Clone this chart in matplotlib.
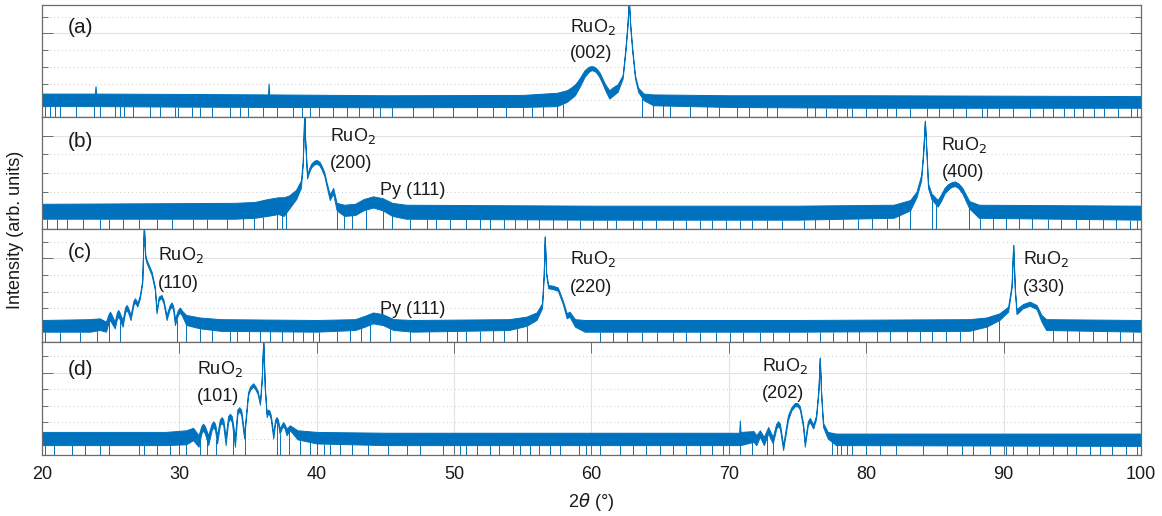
import numpy as np
import matplotlib.pyplot as plt
from matplotlib import ticker
from matplotlib.transforms import blended_transform_factory

plt.rcParams['font.family'] = ['Liberation Sans', 'DejaVu Sans']

# 2theta (deg), lower / upper edge of the noisy trace, in log10(counts)
a_tt = [20.0, 23.85, 23.9, 23.95, 30.0, 36.45, 36.5, 36.55, 45.0, 55.0, 57.5, 58.2, 58.5, 58.8,
        59.0, 59.2, 59.35, 59.5, 59.65, 59.8, 60.0, 60.15, 60.3, 60.45, 60.6, 60.8, 61.0, 61.3,
        61.6, 61.9, 62.27, 62.47, 62.62, 62.72, 62.82, 62.97, 63.17, 63.4, 63.8, 64.5, 70.0,
        80.0, 100.0]
a_lo = [0.65, 0.65, 0.7, 0.65, 0.62, 0.6, 0.6, 0.6, 0.58, 0.6, 0.65, 0.9, 1.1, 1.3,
        1.6, 1.9, 2.15, 2.4, 2.55, 2.7, 2.8, 2.77, 2.7, 2.55, 2.35, 2.0, 1.6, 1.1,
        1.3, 1.5, 2.3, 3.9, 5.4, 7.0, 5.4, 3.9, 2.3, 1.5, 1.0, 0.7, 0.6,
        0.55, 0.55]
a_hi = [1.4, 1.4, 1.85, 1.4, 1.38, 1.35, 2.0, 1.35, 1.3, 1.32, 1.45, 1.6, 1.75, 1.95,
        2.15, 2.4, 2.6, 2.8, 2.9, 3.0, 3.05, 3.02, 2.95, 2.82, 2.65, 2.3, 1.95, 1.6,
        1.8, 1.95, 2.5, 4.1, 5.6, 7.0, 5.6, 4.1, 2.5, 1.75, 1.4, 1.35, 1.3,
        1.3, 1.25]

b_tt = [20.0, 34.0, 35.5, 36.4, 37.2, 37.6, 38.0, 38.5, 38.85, 38.98, 39.05, 39.1, 39.15, 39.3,
        39.45, 39.6, 39.8, 40.0, 40.2, 40.35, 40.55, 40.7, 40.95, 41.2, 41.45, 42.0, 42.8, 43.4,
        44.1, 44.8, 45.5, 46.5, 60.0, 75.0, 82.0, 83.2, 83.66, 84.0, 84.15, 84.27, 84.4, 84.5,
        84.75, 85.2, 85.45, 85.7, 85.95, 86.2, 86.45, 86.7, 87.0, 87.25, 87.5, 88.2, 100.0]
b_lo = [0.55, 0.55, 0.6, 0.7, 0.8, 0.7, 1.1, 1.6, 2.2, 3.4, 5.0, 6.5, 4.8, 2.7,
        3.05, 3.3, 3.45, 3.5, 3.4, 3.2, 2.85, 2.35, 1.55, 1.9, 1.0, 0.7, 0.75, 1.0,
        1.15, 1.0, 0.7, 0.55, 0.5, 0.5, 0.6, 1.0, 1.7, 2.6, 4.0, 5.8, 3.8, 2.2,
        1.6, 1.2, 1.5, 1.9, 2.1, 2.25, 2.3, 2.2, 1.9, 1.5, 1.1, 0.6, 0.5]
b_hi = [1.35, 1.4, 1.45, 1.6, 1.7, 1.7, 1.8, 2.1, 2.6, 3.6, 5.2, 6.5, 5.0, 2.9,
        3.25, 3.5, 3.65, 3.7, 3.6, 3.4, 3.05, 2.55, 1.85, 2.2, 1.4, 1.3, 1.35, 1.6,
        1.75, 1.65, 1.4, 1.3, 1.25, 1.25, 1.3, 1.55, 2.0, 2.9, 4.2, 5.8, 4.0, 2.45,
        1.9, 1.55, 1.85, 2.2, 2.4, 2.5, 2.55, 2.45, 2.2, 1.85, 1.5, 1.3, 1.25]

c_tt = [20.0, 23.5, 24.2, 24.66, 24.85, 24.95, 25.05, 25.3, 25.45, 25.55, 25.65, 25.87, 26.05,
        26.16, 26.27, 26.45, 26.66, 26.77, 26.88, 26.94, 27.13, 27.3, 27.42, 27.52, 27.62, 27.98,
        28.22, 28.34, 28.5, 28.7, 28.85, 29.07, 29.3, 29.44, 29.55, 29.68, 29.9, 30.04, 30.2,
        30.5, 31.5, 33.0, 40.0, 42.8, 43.5, 44.1, 44.8, 45.6, 47.0, 54.0, 55.27, 56.0, 56.4,
        56.52, 56.6, 56.7, 56.85, 57.2, 57.55, 57.9, 58.2, 58.4, 58.8, 59.5, 75.0, 87.5, 88.75,
        89.7, 90.33, 90.58, 90.7, 90.82, 90.94, 91.4, 91.9, 92.4, 92.76, 93.1, 100.0]
c_lo = [0.6, 0.6, 0.7, 0.6, 1.15, 1.3, 1.15, 0.8, 1.35, 1.5, 1.35, 0.9, 1.75,
        1.9, 1.75, 1.3, 2.2, 2.35, 2.2, 2.1, 2.6, 3.5, 7.0, 5.0, 4.7, 4.0,
        3.1, 1.7, 2.5, 2.6, 2.3, 1.3, 1.95, 2.1, 1.9, 1.0, 1.6, 1.75, 1.55,
        1.0, 0.8, 0.65, 0.6, 0.7, 0.9, 1.1, 1.0, 0.7, 0.6, 0.7, 0.95, 1.3, 2.0,
        3.8, 6.3, 4.0, 3.2, 3.15, 3.05, 2.3, 1.4, 1.5, 0.9, 0.6, 0.6, 0.65, 0.9,
        1.3, 1.8, 3.2, 5.8, 3.0, 1.65, 2.0, 2.15, 1.95, 1.2, 0.7, 0.6]
c_hi = [1.3, 1.35, 1.4, 1.2, 1.65, 1.8, 1.65, 1.2, 1.75, 1.9, 1.75, 1.3, 2.05,
        2.2, 2.05, 1.6, 2.45, 2.6, 2.45, 2.3, 2.8, 3.7, 7.0, 5.2, 4.9, 4.2,
        3.3, 1.9, 2.7, 2.8, 2.5, 1.6, 2.2, 2.35, 2.15, 1.4, 1.9, 2.05, 1.85,
        1.6, 1.45, 1.35, 1.3, 1.35, 1.55, 1.75, 1.65, 1.35, 1.3, 1.35, 1.5, 1.75, 2.3,
        4.0, 6.3, 4.2, 3.4, 3.35, 3.25, 2.5, 1.7, 1.8, 1.35, 1.3, 1.3, 1.35, 1.45,
        1.7, 2.1, 3.4, 5.8, 3.2, 1.95, 2.25, 2.4, 2.2, 1.6, 1.35, 1.3]

d_tt = [20.0, 29.0, 30.5, 31.0, 31.4, 31.6, 31.73, 31.86, 32.1, 32.35, 32.47, 32.6, 32.75,
        32.95, 33.08, 33.2, 33.37, 33.55, 33.68, 33.82, 34.05, 34.22, 34.36, 34.5, 34.72, 35.0,
        35.15, 35.38, 35.55, 35.7, 35.87, 36.0, 36.11, 36.22, 36.36, 36.45, 36.55, 36.65, 36.84,
        36.97, 37.08, 37.18, 37.3, 37.45, 37.56, 37.67, 37.8, 38.05, 38.6, 40.0, 45.0, 70.0,
        70.75, 70.8, 70.85, 71.8, 72.0, 72.26, 72.55, 72.86, 73.2, 73.45, 73.59, 73.72, 73.95,
        74.3, 74.55, 74.8, 75.0, 75.17, 75.4, 75.53, 75.75, 75.9, 76.14, 76.35, 76.52, 76.62,
        76.72, 76.86, 77.2, 77.8, 100.0]
d_lo = [0.6, 0.6, 0.65, 0.9, 0.5, 1.3, 1.5, 1.3, 0.6, 1.5, 1.7, 1.5, 0.7,
        1.8, 1.95, 1.8, 0.6, 2.0, 2.2, 2.0, 0.5, 2.45, 2.65, 2.45, 1.0, 3.6,
        3.95, 4.15, 3.95, 3.7, 3.05, 4.5, 7.0, 4.0, 2.3, 2.5, 2.45, 2.2, 1.0,
        1.9, 2.05, 1.9, 1.3, 1.6, 1.75, 1.6, 1.2, 1.5, 0.95, 0.7, 0.6, 0.6,
        0.6, 0.6, 0.6, 0.8, 0.6, 1.1, 0.6, 1.3, 0.7, 1.6, 1.75, 1.6, 0.3,
        2.1, 2.7, 2.95, 2.95, 2.75, 1.7, 0.5, 1.8, 2.0, 1.6, 2.2, 3.8, 5.9,
        3.6, 1.7, 1.0, 0.6, 0.55]
d_hi = [1.4, 1.4, 1.5, 1.65, 1.2, 1.75, 1.9, 1.75, 1.2, 1.9, 2.05, 1.9, 1.2,
        2.15, 2.3, 2.15, 1.1, 2.35, 2.5, 2.35, 1.1, 2.75, 2.9, 2.75, 1.3, 3.8,
        4.15, 4.35, 4.15, 3.9, 3.2, 4.7, 7.0, 4.2, 2.5, 2.75, 2.7, 2.45, 1.3,
        2.15, 2.3, 2.15, 1.6, 1.85, 2.0, 1.85, 1.6, 1.8, 1.5, 1.4, 1.35, 1.35,
        1.35, 2.1, 1.4, 1.45, 1.2, 1.5, 1.1, 1.7, 1.1, 1.9, 2.05, 1.9, 0.6,
        2.4, 2.9, 3.15, 3.15, 2.95, 1.95, 0.8, 2.05, 2.25, 1.85, 2.4, 4.0, 5.9,
        3.8, 1.95, 1.4, 1.3, 1.3]

# positions of zero-count points (drop to the bottom of each log axis)
a_drop = [20.2, 20.6, 20.95, 21.3, 22.5, 23.8, 24.2, 25.3, 25.7, 26.0, 26.6, 27.9, 28.6, 29.7,
          29.9, 30.9, 31.5, 32.4, 33.7, 34.4, 35.0, 36.1, 37.1, 38.3, 38.9, 39.5, 40.2, 41.2,
          42.2, 43.1, 44.1, 44.6, 45.5, 47.0, 48.5, 49.9, 51.7, 52.8, 53.8, 55.0, 55.7, 56.5,
          57.5, 57.9, 63.7, 64.5, 65.2, 65.7, 67.2, 68.4, 69.3, 70.6, 71.5, 72.8, 73.5, 75.7,
          76.3, 77.1, 77.9, 78.6, 79.0, 80.0, 80.8, 81.5, 82.2, 83.2, 84.4, 85.3, 86.3, 87.3,
          88.4, 88.8, 89.7, 90.7, 91.9, 92.9, 93.6, 94.4, 95.1, 95.8, 96.6, 97.3, 98.3, 99.3, 99.7]
b_drop = [20.4, 21.1, 21.8, 23.0, 24.2, 24.9, 25.9, 27.1, 28.4, 29.5, 31.0, 32.0, 33.5, 34.6,
          35.4, 36.1, 37.1, 37.5, 37.8, 41.5, 42.0, 42.6, 43.6, 44.8, 45.5, 46.8, 48.0, 48.7,
          49.7, 50.9, 51.9, 52.6, 53.6, 54.4, 55.3, 56.2, 57.2, 58.2, 59.2, 60.1, 61.1, 61.8,
          63.0, 63.7, 64.7, 65.9, 66.9, 67.9, 68.8, 69.8, 70.8, 71.7, 72.8, 73.9, 75.5, 76.3,
          77.3, 78.3, 79.4, 80.4, 81.5, 82.4, 83.2, 84.8, 85.1, 87.5, 88.3, 89.2, 90.2, 91.1,
          92.1, 93.2, 94.2, 95.3, 96.2, 97.2, 98.2, 99.2, 99.7]
c_drop = [20.2, 21.3, 22.8, 24.0, 24.9, 25.7, 29.8, 30.5, 31.5, 32.4, 33.7, 34.2, 35.1, 35.9,
          36.6, 37.5, 38.3, 39.0, 39.7, 40.2, 41.5, 42.4, 43.2, 43.9, 45.3, 46.8, 48.2, 49.5,
          50.2, 50.9, 51.9, 52.8, 53.6, 54.6, 55.3, 60.6, 61.6, 62.6, 63.7, 64.8, 65.9, 66.9,
          67.9, 69.1, 70.1, 71.0, 72.3, 73.2, 74.4, 75.7, 76.6, 77.6, 78.6, 79.5, 80.8, 81.7,
          83.0, 83.9, 84.8, 85.8, 86.8, 87.8, 88.8, 89.7, 93.6, 94.6, 95.5, 96.5, 97.5, 98.5, 99.4]
d_drop = [20.2, 20.9, 22.2, 23.1, 24.2, 24.9, 27.1, 27.4, 28.4, 29.3, 30.0, 30.5, 31.5, 32.0,
          32.7, 33.9, 34.8, 37.1, 37.3, 38.0, 38.8, 39.5, 40.0, 40.5, 41.0, 41.7, 42.6, 43.7,
          45.2, 46.6, 47.5, 49.2, 50.4, 50.9, 51.7, 52.6, 53.3, 54.3, 54.8, 55.5, 56.2, 57.0,
          57.7, 59.1, 59.6, 60.6, 62.1, 63.0, 64.0, 65.0, 65.9, 66.9, 67.9, 68.8, 69.6, 70.8,
          71.7, 72.8, 73.2, 77.5, 77.9, 78.2, 78.6, 79.0, 80.0, 81.0, 82.2, 84.1, 85.9, 87.0,
          87.8, 89.0, 90.2, 90.7, 91.7, 92.6, 93.6, 94.6, 95.3, 96.3, 97.0, 97.9, 98.9, 99.7]

panel_tags = ['(a)', '(b)', '(c)', '(d)']
# upper y limit of each panel, log10(counts)
panel_top = [6.7, 6.0, 6.75, 6.87]

# peak labels: (panel, 2theta of left edge, first line, second line)
peak_labels = [
    (0, 58.43, 'RuO$_2$', '(002)'),
    (1, 40.96, 'RuO$_2$', '(200)'),
    (1, 85.48, 'RuO$_2$', '(400)'),
    (2, 28.47, 'RuO$_2$', '(110)'),
    (2, 58.43, 'RuO$_2$', '(220)'),
    (2, 91.42, 'RuO$_2$', '(330)'),
    (3, 31.26, 'RuO$_2$', '(101)'),
    (3, 72.38, 'RuO$_2$', '(202)'),
]
label_rows = [(0.762, 0.524), (0.782, 0.543), (0.707, 0.468), (0.725, 0.474),
              (0.687, 0.444), (0.687, 0.444), (0.716, 0.473), (0.739, 0.503)]
py_labels = [(1, 44.6, 0.304), (2, 44.6, 0.245)]
tag_rows = [0.747, 0.731, 0.74, 0.71]

blue = '#0072BD'
frame = '#6b6b6b'
txt = '#1a1a1a'

fig = plt.figure(figsize=(11.62, 5.16), dpi=100)
rects = [(0.0361, 0.7733, 0.9458, 0.2170),
         (0.0361, 0.5562, 0.9458, 0.2171),
         (0.0361, 0.3378, 0.9458, 0.2184),
         (0.0361, 0.1182, 0.9458, 0.2196)]

series = [(a_tt, a_lo, a_hi, a_drop), (b_tt, b_lo, b_hi, b_drop),
          (c_tt, c_lo, c_hi, c_drop), (d_tt, d_lo, d_hi, d_drop)]

axes = []
for i, (tt, lo, hi, drop) in enumerate(series):
    ax = fig.add_axes(rects[i])
    axes.append(ax)
    ax.set_yscale('log')
    ax.set_xlim(20, 100)
    ax.set_ylim(1, 10 ** panel_top[i])
    ax.set_axisbelow(True)

    lo_c = np.power(10.0, lo)
    hi_c = np.power(10.0, hi)
    ax.fill_between(tt, lo_c, hi_c, color=blue, lw=0.7)
    drop_top = np.power(10.0, np.interp(drop, tt, lo))
    ax.vlines(drop, 0.1, drop_top, color=blue, lw=0.7)

    ax.yaxis.set_major_locator(ticker.FixedLocator([1, 1e5]))
    ax.yaxis.set_minor_locator(ticker.FixedLocator([1e1, 1e2, 1e3, 1e4, 1e6]))
    ax.yaxis.set_major_formatter(ticker.NullFormatter())
    ax.yaxis.set_minor_formatter(ticker.NullFormatter())
    ax.grid(True, which='major', axis='y', color='#e2e2e2', lw=0.8)
    ax.grid(True, which='minor', axis='y', color='#cfcfcf', lw=0.7, ls=(0, (1, 3)))
    ax.tick_params(axis='y', which='both', direction='in', left=True, right=True,
                   color=frame, width=0.7)
    ax.tick_params(axis='y', which='major', length=8)
    ax.tick_params(axis='y', which='minor', length=4.5)
    for s in ax.spines.values():
        s.set_color(frame)
        s.set_linewidth(0.9)

    if i < 3:
        ax.tick_params(axis='x', which='both', bottom=False, top=False, labelbottom=False)
    else:
        ax.set_xticks(np.arange(20, 101, 10))
        ax.grid(True, which='major', axis='x', color='#e2e2e2', lw=0.8)
        ax.tick_params(axis='x', which='major', direction='in', top=True, bottom=True,
                       length=8, width=0.7, color=frame, labelsize=13, labelcolor=txt, pad=8)
        ax.set_xlabel(r'2$\it{\theta}$ (°)', fontsize=13, color=txt, labelpad=6)

    trans = blended_transform_factory(ax.transData, ax.transAxes)
    ax.text(21.89, tag_rows[i], panel_tags[i], transform=trans, fontsize=15,
            color=txt, va='baseline', ha='left')

for (p, x, l1, l2), (r1, r2) in zip(peak_labels, label_rows):
    ax = axes[p]
    trans = blended_transform_factory(ax.transData, ax.transAxes)
    ax.text(x, r1, l1, transform=trans, fontsize=13, color=txt, va='baseline', ha='left')
    ax.text(x, r2, l2, transform=trans, fontsize=13, color=txt, va='baseline', ha='left')

for p, x, r in py_labels:
    ax = axes[p]
    trans = blended_transform_factory(ax.transData, ax.transAxes)
    ax.text(x, r, 'Py (111)', transform=trans, fontsize=13, color=txt, va='baseline', ha='left')

fig.text(0.013, 1 - 230 / 516, 'Intensity (arb. units)', rotation=90, fontsize=13,
         color=txt, va='center', ha='center')

fig.savefig('out.png', dpi=100)
